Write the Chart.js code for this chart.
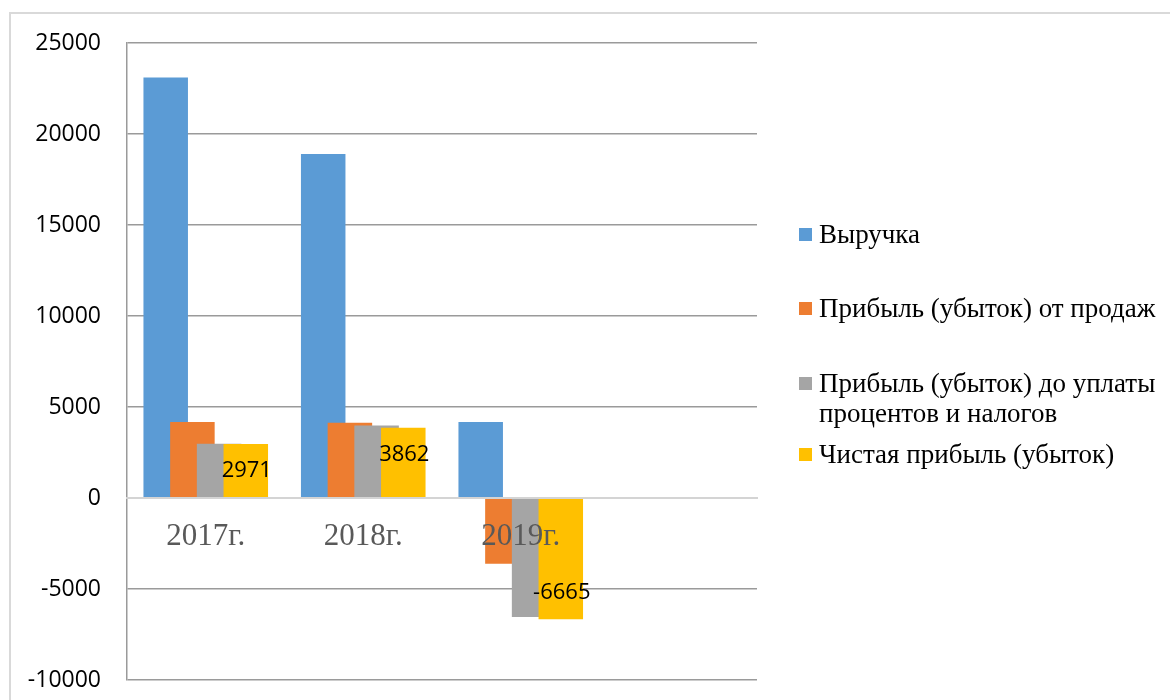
<!DOCTYPE html>
<html>
<head>
<meta charset="utf-8">
<script src="https://cdn.jsdelivr.net/npm/chart.js@4.4.1/dist/chart.umd.min.js"></script>
<style>
	html, body { margin: 0; padding: 0; background: #fff; overflow: hidden; }
	#frame { position: absolute; left: 9px; top: 12px; width: 1200px; height: 800px; border: 2px solid #d9d9d9; }
	#myChart { position: absolute; left: 0; top: 0; }
	#legend { position: absolute; left: 799px; top: 0; font-family: "Liberation Serif", serif; font-size: 27px; line-height: 30px; color: #000; }
	.item { position: absolute; left: 0; width: 370px; display: flex; }
	.box { width: 13px; height: 13px; margin-top: 9px; margin-right: 7px; flex: none; }
	.text { width: 345px; }
</style>
</head>
<body>
<div id="frame"></div>
<canvas id="myChart" width="1170" height="700"></canvas>
<div id="legend"></div>
<script>
const categories = ['2017г.', '2018г.', '2019г.', ''];
const series_names = [
	'Выручка',
	'Прибыль (убыток) от продаж',
	'Прибыль (убыток) до уплаты процентов и налогов',
	'Чистая прибыль (убыток)',
];
const revenue = [23100, 18900, 4180];
const sales_profit = [4180, 4140, -3610];
const profit_before_tax = [2980, 3990, -6540];
const net_profit = [2971, 3862, -6665];
const y_ticks = { min: -10000, max: 25000, step: 5000 };

const chart_colors = ['#5B9BD5', '#ED7D31', '#A5A5A5', '#FFC000'];
const grid_color = '#9a9a9a';
const zero_color = '#d4d4d4';

// excel-like overlapping bars: later series are painted over earlier ones
const drawInOrder = {
	id: 'drawInOrder',
	beforeDatasetsDraw(chart) {
		const area = chart.chartArea;
		const ctx = chart.ctx;
		ctx.save();
		ctx.beginPath();
		ctx.rect(area.left, area.top, area.right - area.left, area.bottom - area.top);
		ctx.clip();
		chart.data.datasets.forEach((ds, i) => {
			const meta = chart.getDatasetMeta(i);
			if (!meta.hidden) meta.controller.draw();
		});
		ctx.restore();
		return false;
	}
};

// value labels for the net profit series, "inside end"
const netLabels = {
	id: 'netLabels',
	afterDraw(chart) {
		const ctx = chart.ctx;
		const meta = chart.getDatasetMeta(3);
		ctx.save();
		ctx.font = '22px "Open Sans"';
		ctx.fillStyle = '#000';
		ctx.textAlign = 'center';
		ctx.textBaseline = 'middle';
		meta.data.forEach((bar, i) => {
			const v = net_profit[i];
			const y = v >= 0 ? bar.y + 27 : bar.y - 27;
			ctx.fillText(String(v), bar.x + 1, y);
		});
		ctx.restore();
	}
};

const data = {
	labels: categories,
	datasets: [revenue, sales_profit, profit_before_tax, net_profit].map((values, i) => ({
		label: series_names[i],
		data: values,
		backgroundColor: chart_colors[i],
		borderWidth: 0,
		barPercentage: 1.667,
		categoryPercentage: 0.678,
	})),
};

const config = {
	type: 'bar',
	data: data,
	plugins: [drawInOrder, netLabels],
	options: {
		responsive: false,
		animation: false,
		layout: { padding: { left: 0, top: 43, right: 413, bottom: 20 } },
		plugins: { legend: { display: false }, tooltip: { enabled: false } },
		scales: {
			x: {
				position: { y: 0 },
				grid: { display: false, drawTicks: false },
				border: { display: true, color: zero_color, width: 2, z: 1 },
				ticks: {
					z: 1,
					color: '#595959',
					font: { family: '"Liberation Serif"', size: 31 },
					padding: 20,
					maxRotation: 0,
					autoSkip: false,
				},
				afterFit: (scale) => { scale.height = 0; },
			},
			y: {
				min: y_ticks.min,
				max: y_ticks.max,
				ticks: {
					stepSize: y_ticks.step,
					color: '#000',
					font: { family: '"Open Sans"', size: 23 },
					padding: 26,
					callback: (v) => String(v),
				},
				grid: {
					drawTicks: false,
					color: (c) => (c.tick && c.tick.value === 0 ? zero_color : grid_color),
					lineWidth: (c) => (c.tick && c.tick.value === 0 ? 2 : 1.5),
				},
				border: { display: true, color: grid_color, width: 1.5 },
				afterFit: (scale) => {
					scale.width = 127;
					scale.paddingTop = 0;
					scale.paddingBottom = 0;
				},
			},
		},
	},
};

var myChart = new Chart(document.getElementById('myChart'), config);

// legend (html so the long label can wrap like in the original)
const legend_tops = [219, 293, 368, 439];
const legend = document.getElementById('legend');
series_names.forEach((name, i) => {
	const item = document.createElement('div');
	item.className = 'item';
	item.style.top = legend_tops[i] + 'px';
	item.innerHTML = '<span class="box" style="background:' + chart_colors[i] + '"></span><span class="text">' + name + '</span>';
	legend.appendChild(item);
});
</script>
</body>
</html>
